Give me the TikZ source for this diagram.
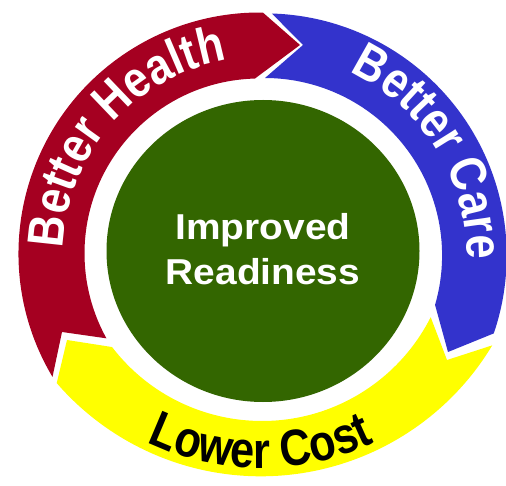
\documentclass[tikz,border=0pt]{standalone}
\usepackage{fontspec}
\usetikzlibrary{decorations.text}
\newfontfamily\arcfont{Liberation Sans}[FakeStretch=0.85]
\newfontfamily\ctrfont{Liberation Sans}[FakeStretch=1.08]
\definecolor{redc}{RGB}{165,0,33}
\definecolor{bluec}{RGB}{51,51,204}
\definecolor{yellowc}{RGB}{255,255,0}
\definecolor{greenc}{RGB}{51,102,0}
\tikzset{
  arctext/.style={decorate, decoration={text along path, text align=center, text color=#1}},
  ctrtext/.style={text=white, font=\ctrfont\bfseries\fontsize{36pt}{36pt}\selectfont, inner sep=0pt, anchor=base}
}
\begin{document}
\begin{tikzpicture}[x=1pt,y=1pt]
\useasboundingbox (0,0) rectangle (506,485);
\fill[white] (0,0) rectangle (506,485);
% centres
\coordinate (rc) at (259.5,231.5);
\coordinate (bc) at (264.7,229.6);
\coordinate (yo) at (260.8,278.7);
\coordinate (yi) at (262,253);
\coordinate (gc) at (263,234);
% tips and notches
\coordinate (rtip) at (300,440);
\coordinate (rnotch) at (62,153);
\coordinate (btip) at (448,133);
\coordinate (bnotch) at (303,440);
\coordinate (ytip) at (67,145);
\coordinate (ynotch) at (447,125);
% red arrow
\fill[redc] ([shift={(210.8:241pt)}]rc) arc[start angle=210.8, end angle=89.2, radius=241pt]
  -- (rtip) -- ([shift={(91.5:175pt)}]rc) arc[start angle=91.5, end angle=209, radius=175pt]
  -- (rnotch) -- cycle;
% blue arrow
\fill[bluec] ([shift={(88.3:242pt)}]bc) arc[start angle=88.3, end angle=-18.8, radius=242pt]
  -- (btip) -- ([shift={(-16.2:177.4pt)}]bc) arc[start angle=-16.2, end angle=89.9, radius=177.4pt]
  -- (bnotch) -- cycle;
% yellow arrow
\fill[yellowc] ([shift={(-31:270pt)}]yo) arc[start angle=-31, end angle=-139.1, radius=270pt]
  -- (ytip) -- ([shift={(-142.5:189pt)}]yi) arc[start angle=-142.5, end angle=-26.8, radius=189pt]
  -- (ynotch) -- cycle;
% green circle
\fill[greenc] (gc) ellipse [x radius=156.5pt, y radius=151pt];
% arc texts
\path[arctext=white, decoration={text={|\arcfont\bfseries\fontsize{51pt}{51pt}\selectfont|Better Health}}]
  ([shift={(200:196pt)}]rc) arc[start angle=200, end angle=78, radius=196pt];
\path[arctext=white, decoration={text={|\arcfont\bfseries\fontsize{51pt}{51pt}\selectfont|Better Care}}]
  ([shift={(92:202pt)}]bc) arc[start angle=92, end angle=-28, radius=202pt];
\path[arctext=black, decoration={text={|\arcfont\bfseries\fontsize{51pt}{51pt}\selectfont|Lower Cost}}]
  ([shift={(-150:262pt)}]yo) arc[start angle=-150, end angle=-30, radius=262pt];
% centre text
\node[ctrtext] (t1) at (263,245) {Improved};
\node[ctrtext] (t2) at (263,200) {Readiness};
\end{tikzpicture}
\end{document}
